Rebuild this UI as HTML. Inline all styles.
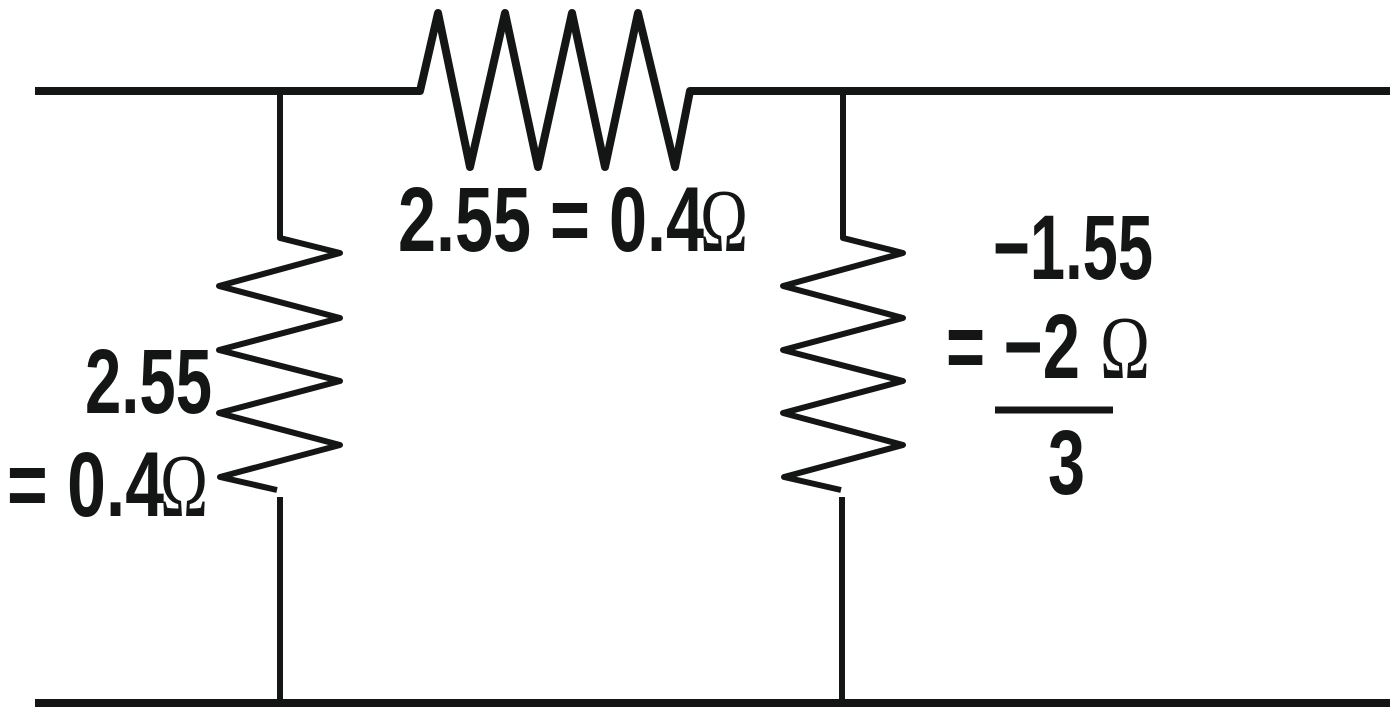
<!DOCTYPE html>
<html><head><meta charset="utf-8"><style>html,body{margin:0;padding:0;background:#fff}svg{display:block}</style></head>
<body>
<svg width="1396" height="716" viewBox="0 0 1396 716" xmlns="http://www.w3.org/2000/svg">
<g stroke="#141616" fill="none" stroke-linejoin="miter" stroke-linecap="butt">
<path d="M35 91 H420 L438 13 L470 167 L505 13 L538 167 L572 13 L605 167 L638 13 L675 167 L690 91 H1390" stroke-width="8" stroke-linejoin="round"/>
<path d="M35 703 H1390" stroke-width="8"/>
<path d="M280 91 V238 L340 253 L219 286 L340 318 L219 350 L340 381 L219 413 L340 445 L220 477 L277 490" stroke-width="6" stroke-linejoin="round"/>
<path d="M280 497 V703" stroke-width="6"/>
<path d="M843 91 V238 L903 253 L783 286 L903 318 L783 350 L903 381 L783 413 L903 445 L784 477 L841 490" stroke-width="6" stroke-linejoin="round"/>
<path d="M842 497 V703" stroke-width="6"/>
<path d="M995 410 H1113" stroke-width="7"/>
</g>
<g fill="#141616" font-family="Liberation Sans, sans-serif" font-weight="bold" font-size="92">
<text x="398" y="251" textLength="306" lengthAdjust="spacingAndGlyphs">2.55 = 0.4</text>
<text x="85" y="413" textLength="127" lengthAdjust="spacingAndGlyphs">2.55</text>
<text x="7" y="516" textLength="157" lengthAdjust="spacingAndGlyphs">= 0.4</text>
<text x="993" y="279" textLength="160" lengthAdjust="spacingAndGlyphs">−1.55</text>
<text x="946" y="378" textLength="134" lengthAdjust="spacingAndGlyphs">= −2</text>
<text x="1048" y="494" textLength="37" lengthAdjust="spacingAndGlyphs">3</text>
</g>
<g fill="#141616" font-family="Liberation Serif, serif" font-size="90">
<text x="700" y="251" textLength="48" lengthAdjust="spacingAndGlyphs">Ω</text>
<text x="160" y="516" textLength="48" lengthAdjust="spacingAndGlyphs">Ω</text>
<text x="1100" y="378" textLength="50" lengthAdjust="spacingAndGlyphs">Ω</text>
</g>
</svg>
</body></html>
